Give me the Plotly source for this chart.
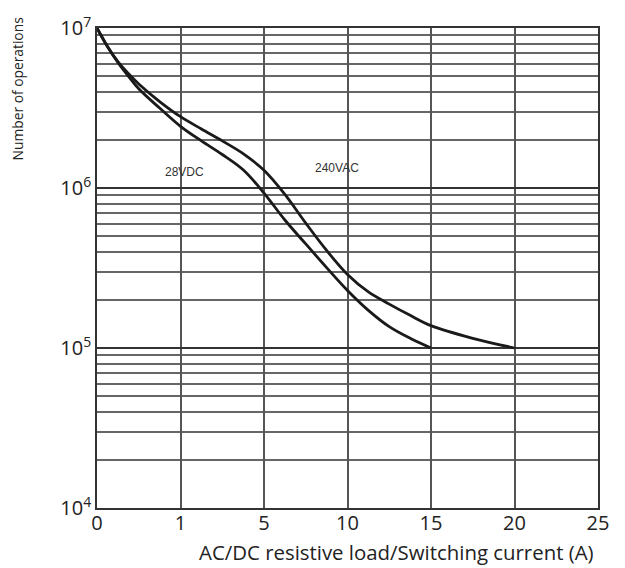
import numpy as np
import plotly.graph_objects as go

# Switching current axis: equally spaced tick slots
tick_currents = [0, 1, 5, 10, 15, 20, 25]
tick_labels = ["0", "1", "5", "10", "15", "20", "25"]

# Electrical life curves (current in A, number of operations)
vac_current = [0, 0.125, 0.25, 0.375, 0.5, 0.75, 1, 2, 3, 4, 5, 6.25, 7.5, 8.75,
               10, 11.25, 12.5, 13.75, 15, 17.5, 20]
vac_ops = [1e7, 7.67e6, 6.17e6, 5.19e6, 4.47e6, 3.47e6, 2.79e6, 2.34e6, 1.97e6, 1.64e6,
           1.29e6, 9.12e5, 6.03e5, 4.07e5, 2.88e5, 2.24e5, 1.88e5, 1.6e5, 1.38e5,
           1.15e5, 1e5]

vdc_current = [0, 0.125, 0.25, 0.375, 0.5, 0.75, 1, 2, 3, 4, 5, 6.25, 7.5, 8.75,
               10, 11.25, 12.5, 13.75, 15]
vdc_ops = [1e7, 7.67e6, 6.1e6, 5.01e6, 4.17e6, 3.16e6, 2.43e6, 1.97e6, 1.62e6, 1.3e6,
           9.3e5, 6.31e5, 4.47e5, 3.18e5, 2.29e5, 1.72e5, 1.36e5, 1.15e5, 1e5]

y_ticks = [1e4, 1e5, 1e6, 1e7]
y_labels = ["10<sup>4</sup>", "10<sup>5</sup>", "10<sup>6</sup>", "10<sup>7</sup>"]

slots = list(range(len(tick_currents)))


def to_slot(amps):
    """Place currents on the equally spaced tick slots."""
    return np.interp(amps, tick_currents, slots)


fig = go.Figure()
for cur, ops in [(vdc_current, vdc_ops), (vac_current, vac_ops)]:
    fig.add_trace(go.Scatter(
        x=to_slot(cur), y=ops, mode="lines",
        line=dict(color="#1a1a1a", width=2.8, shape="spline", smoothing=1.0),
        showlegend=False, hoverinfo="skip",
    ))

fig.add_annotation(x=float(to_slot(1.2)), y=np.log10(1.25e6), text="28VDC", showarrow=False,
                   font=dict(family="Liberation Sans, Arial", size=12, color="#333"))
fig.add_annotation(x=float(to_slot(9.4)), y=np.log10(1.34e6), text="240VAC", showarrow=False,
                   font=dict(family="Liberation Sans, Arial", size=12, color="#333"))

fig.add_annotation(xref="paper", yref="paper", x=-0.158, y=1.027, xanchor="center", yanchor="top",
                   text="Number of operations", textangle=-90, showarrow=False,
                   font=dict(family="Open Sans", size=13.8, color="#222"))
fig.add_annotation(xref="paper", yref="paper", x=0.996, y=-0.091, xanchor="right", yanchor="middle",
                   text="AC/DC resistive load/Switching current (A)", showarrow=False,
                   font=dict(family="Open Sans", size=20.4, color="#222"))

fig.update_xaxes(
    range=[0, 6], tickmode="array", tickvals=slots, ticktext=tick_labels,
    showgrid=True, gridcolor="#555", gridwidth=1.6, zeroline=False,
    showline=True, linecolor="#333", linewidth=1.6, mirror=True,
    ticks="", ticklen=0, ticklabelstandoff=-4,
    tickfont=dict(family="Open Sans", size=20, color="#222"),
)
fig.update_yaxes(
    type="log", range=[4, 7], tickmode="array", tickvals=y_ticks, ticktext=y_labels,
    showgrid=True, gridcolor="#333", gridwidth=1.6, zeroline=False,
    showline=True, linecolor="#333", linewidth=1.6, mirror=True,
    ticks="", ticklen=0, ticklabeloverflow="allow",
    minor=dict(dtick="D1", showgrid=True, gridcolor="#666", gridwidth=1.5, ticks=""),
    tickfont=dict(family="Open Sans", size=20, color="#222"),
)

fig.update_layout(
    width=625, height=568,
    margin=dict(l=97, r=27, t=17, b=60),
    paper_bgcolor="white", plot_bgcolor="white",
)

fig.write_html("out.html")
